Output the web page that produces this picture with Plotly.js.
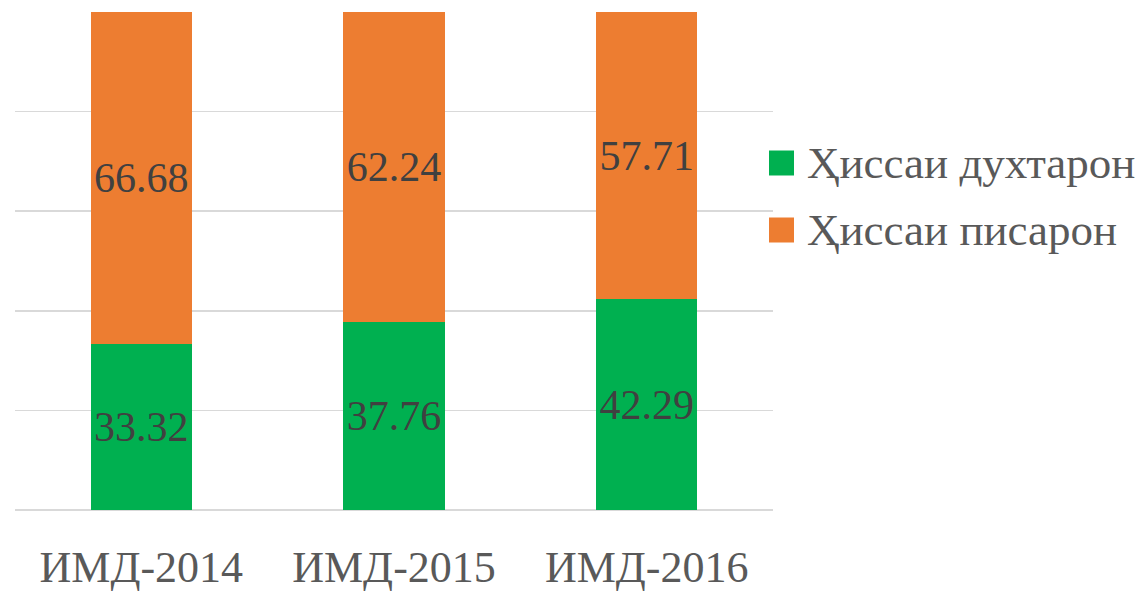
<!DOCTYPE html>
<html>
<head>
<meta charset="utf-8">
<script src="https://cdn.plot.ly/plotly-3.0.1.min.js"></script>
<style>html,body{margin:0;padding:0;background:#fff;}#chart{width:1147px;height:591px;}</style>
</head>
<body>
<div id="chart"></div>
<script>
const categories = ["ИМД-2014", "ИМД-2015", "ИМД-2016"];
const seriesNames = ["Ҳиссаи духтарон", "Ҳиссаи писарон"];
const girls = [33.32, 37.76, 42.29];
const boys = [66.68, 62.24, 57.71];
const colors = ["#00B050", "#ED7D31"];

const FONT = "'Liberation Serif', serif";
const values = [girls, boys];

const traces = values.map((v, i) => ({
  type: "bar",
  name: seriesNames[i],
  x: categories,
  y: v,
  marker: {color: colors[i]},
  text: v.map(n => n.toFixed(2)),
  textposition: "inside",
  insidetextanchor: "middle",
  textangle: 0,
  constraintext: "none",
  textfont: {family: FONT, size: 42, color: "#404040"},
  hoverinfo: "skip",
  showlegend: false
}));

const shapes = [];
const annotations = [];
seriesNames.forEach((name, i) => {
  const cy = 163 + i * 67;
  shapes.push({type: "rect", xref: "paper", yref: "paper",
    x0: (769 - 15) / 758, x1: (794 - 15) / 758,
    y0: (510 - (cy + 12.5)) / 498, y1: (510 - (cy - 12.5)) / 498,
    fillcolor: colors[i], line: {width: 0}});
  annotations.push({xref: "paper", yref: "paper",
    x: (805 - 15) / 758, y: (510 - cy) / 498,
    xanchor: "left", yanchor: "middle", showarrow: false,
    text: name, font: {family: FONT, size: 45, color: "#595959"}});
});

const layout = {
  width: 1147, height: 591,
  margin: {l: 15, r: 374, t: 12, b: 81},
  paper_bgcolor: "#fff", plot_bgcolor: "#fff",
  barmode: "stack",
  bargap: 0.6,
  showlegend: false,
  xaxis: {
    showgrid: false, zeroline: false, showline: false,
    tickfont: {family: FONT, size: 44, color: "#595959"},
    ticks: "outside", ticklen: 18, tickcolor: "rgba(0,0,0,0)"
  },
  yaxis: {
    range: [0, 100], dtick: 20, showticklabels: false,
    showgrid: true, gridcolor: "#d9d9d9", gridwidth: 1.5,
    zeroline: true, zerolinecolor: "#d9d9d9", zerolinewidth: 1.5, showline: false
  },
  shapes: shapes,
  annotations: annotations
};

Plotly.newPlot("chart", traces, layout, {displayModeBar: false, staticPlot: true});
</script>
</body>
</html>
